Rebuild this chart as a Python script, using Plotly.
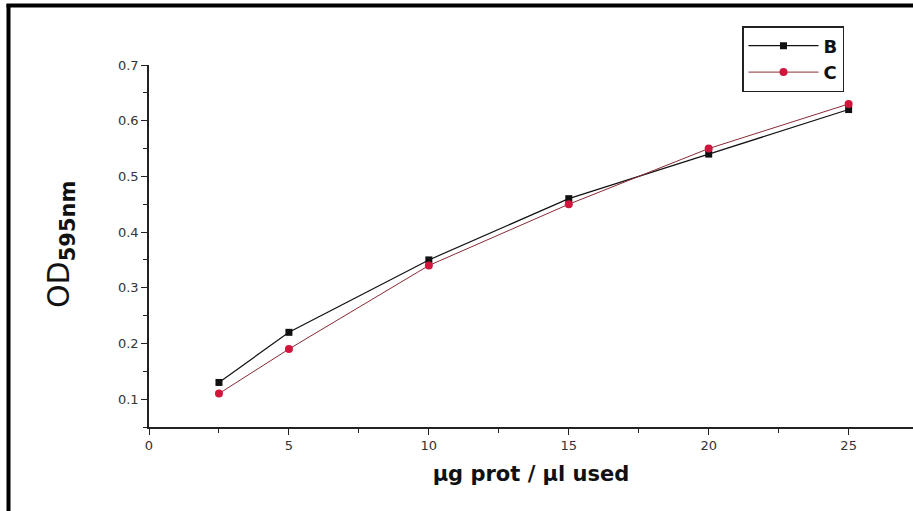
import plotly.graph_objects as go

x_vals = [2.5, 5, 10, 15, 20, 25]
b_vals = [0.13, 0.22, 0.35, 0.46, 0.54, 0.62]
c_vals = [0.11, 0.19, 0.34, 0.45, 0.55, 0.63]
x_ticks = [0, 5, 10, 15, 20, 25]
y_ticks = [0.1, 0.2, 0.3, 0.4, 0.5, 0.6, 0.7]

W, H = 913, 511
ML, MR, MT, MB = 149, 0, 65, 84
pw = W - ML - MR
ph = H - MT - MB

fig = go.Figure()
fig.add_trace(go.Scatter(
    x=x_vals, y=b_vals, name="<b>B</b>", mode="lines+markers",
    line=dict(color="#111111", width=1.2),
    marker=dict(symbol="square", size=7, color="#111111"),
))
fig.add_trace(go.Scatter(
    x=x_vals, y=c_vals, name="<b>C</b>", mode="lines+markers",
    line=dict(color="#8a2a35", width=1),
    marker=dict(symbol="circle", size=8, color="#d0163c"),
))

def px_x(p):
    return (p - ML) / pw

def px_y(p):
    return 1 - (p - MT) / ph

tick_font = dict(family="DejaVu Sans", size=13, color="#333333")

fig.update_layout(
    width=W, height=H,
    margin=dict(l=ML, r=MR, t=MT, b=MB),
    paper_bgcolor="white", plot_bgcolor="white",
    showlegend=True,
    legend=dict(
        x=px_x(742), y=px_y(26), xanchor="left", yanchor="top",
        bordercolor="#222222", borderwidth=1.5, bgcolor="white",
        font=dict(family="DejaVu Sans", size=18, color="#111111"),
        tracegroupgap=0, itemwidth=70,
    ),
    xaxis=dict(
        range=[0, 27.3], tickvals=x_ticks, ticktext=[str(v) for v in x_ticks],
        showgrid=False, zeroline=False, showline=True, linecolor="#222222", linewidth=1.5,
        ticks="outside", ticklen=6, tickcolor="#222222", tickfont=tick_font,
        minor=dict(dtick=2.5, tick0=0, ticks="outside", ticklen=4, tickcolor="#222222"),
        title=dict(text="<b>μg prot / μl used</b>", font=dict(family="DejaVu Sans", size=21, color="#111111"), standoff=14),
    ),
    yaxis=dict(
        range=[0.05, 0.7], tickvals=y_ticks, ticktext=[f"{v:.1f}" for v in y_ticks],
        showgrid=False, zeroline=False, showline=True, linecolor="#222222", linewidth=1.5,
        ticks="outside", ticklen=6, tickcolor="#222222", tickfont=tick_font,
        minor=dict(dtick=0.05, tick0=0.05, ticks="outside", ticklen=4, tickcolor="#222222"),
    ),
    annotations=[dict(
        text="OD<sub><b>595nm</b></sub>", textangle=-90,
        xref="paper", yref="paper", x=px_x(60), y=px_y(245),
        xanchor="center", yanchor="middle", showarrow=False,
        font=dict(family="DejaVu Sans", size=30, color="#111111"),
    )],
    shapes=[
        dict(type="line", xref="paper", yref="paper",
             x0=px_x(8.5), x1=px_x(8.5), y0=px_y(4), y1=px_y(515),
             line=dict(color="black", width=4)),
        dict(type="line", xref="paper", yref="paper",
             x0=px_x(6.5), x1=px_x(920), y0=px_y(5.5), y1=px_y(5.5),
             line=dict(color="black", width=4)),
    ],
)

fig.write_html(
    "out.html",
    config={"displayModeBar": False},
    post_script="document.body.style.margin='0';document.body.style.padding='0';document.body.style.overflow='hidden';",
)
